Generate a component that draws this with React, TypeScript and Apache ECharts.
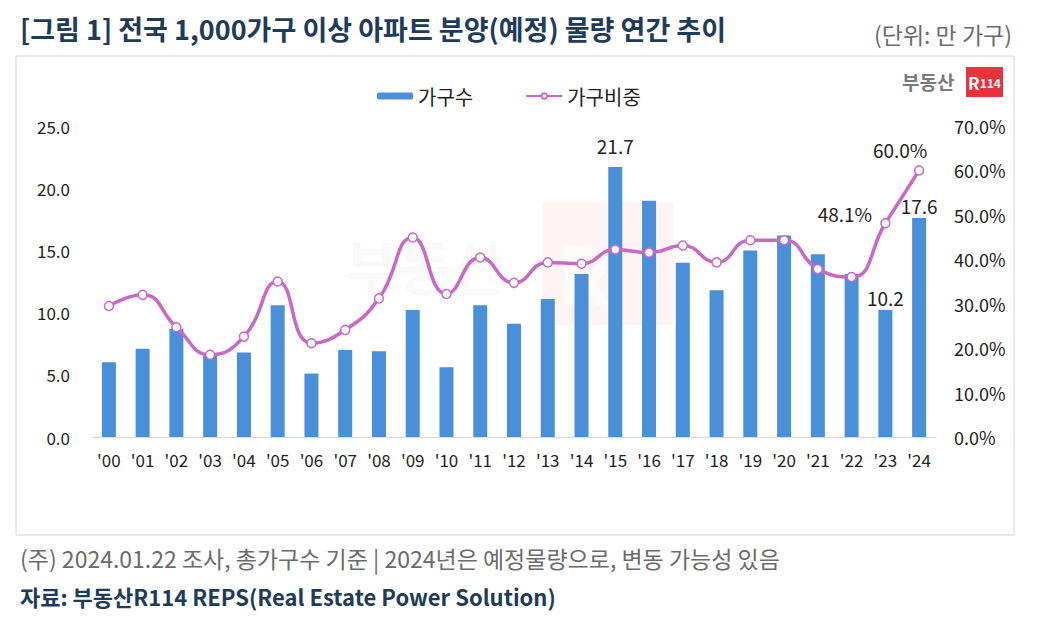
import React, { useEffect, useRef } from "react";
import * as echarts from "echarts";

const categories = ["'00","'01","'02","'03","'04","'05","'06","'07","'08","'09","'10","'11","'12","'13","'14","'15","'16","'17","'18","'19","'20","'21","'22","'23","'24"];
const households = [6.0, 7.1, 8.7, 6.6, 6.8, 10.6, 5.1, 7.0, 6.9, 10.2, 5.6, 10.6, 9.1, 11.1, 13.1, 21.7, 19.0, 14.0, 11.8, 15.0, 16.2, 14.7, 13.1, 10.2, 17.6];
const shares = [29.5, 32.0, 24.7, 18.5, 22.6, 35.0, 21.1, 24.1, 31.2, 44.9, 32.2, 40.4, 34.7, 39.3, 39.0, 42.2, 41.5, 43.1, 39.3, 44.3, 44.3, 37.8, 36.0, 48.1, 60.0];
const leftTicks = { min: 0, max: 25, interval: 5 };
const rightTicks = { min: 0, max: 70, interval: 10 };
const barLabelIdx = [15, 23, 24];
const lineLabelIdx = [23, 24];

const TITLE = "[그림 1] 전국 1,000가구 이상 아파트 분양(예정) 물량 연간 추이";
const UNIT = "(단위: 만 가구)";
const NOTE = "(주) 2024.01.22 조사, 총가구수 기준 | 2024년은 예정물량으로, 변동 가능성 있음";
const SOURCE = "자료: 부동산R114 REPS(Real Estate Power Solution)";

const FONT = "'Noto Sans CJK KR', 'Noto Sans', sans-serif";
const BAR = "#4a90d9";
const LINE = "#c868c8";

export default function App() {
  const ref = useRef<HTMLDivElement>(null);
  useEffect(() => {
    if (!ref.current) return;
    const chart = echarts.init(ref.current, null, { renderer: "svg" });
    const barData = households.map((v, i) => {
      if (!barLabelIdx.includes(i)) return v;
      return {
        value: v,
        label: {
          show: true,
          position: "top",
          distance: i === 15 ? 12 : 3,
          fontSize: 19,
          color: "#222",
          fontFamily: FONT,
          formatter: (p: any) => p.value.toFixed(1),
        },
      };
    });
    const lineData = shares.map((v, i) => {
      if (!lineLabelIdx.includes(i)) return v;
      const isLast = i === shares.length - 1;
      return {
        value: v,
        label: {
          show: true,
          position: isLast ? "top" : "left",
          distance: isLast ? 6 : 8,
          offset: isLast ? [-19, 0] : [0, -10],
          fontSize: 19,
          color: "#222",
          fontFamily: FONT,
          formatter: (p: any) => p.value.toFixed(1) + "%",
        },
      };
    });
    chart.setOption({
      animation: false,
      textStyle: { fontFamily: FONT },
      grid: { left: 92, right: 114, top: 126, bottom: 206 },
      legend: {
        left: 372,
        top: 81,
        itemWidth: 36,
        itemHeight: 7,
        itemGap: 52,
        textStyle: { fontSize: 20, color: "#222", fontFamily: FONT },
        data: ["가구수", "가구비중"],
      },
      xAxis: {
        type: "category",
        data: categories,
        axisLine: { lineStyle: { color: "#d9d9d9" } },
        axisTick: { show: false },
        axisLabel: { fontSize: 17, color: "#222", margin: 14, fontFamily: FONT },
      },
      yAxis: [
        {
          type: "value",
          ...leftTicks,
          splitLine: { show: false },
          axisLine: { show: false },
          axisTick: { show: false },
          axisLabel: { fontSize: 17, color: "#222", margin: 22, fontFamily: FONT, formatter: (v: number) => v.toFixed(1) },
        },
        {
          type: "value",
          ...rightTicks,
          position: "right",
          splitLine: { show: false },
          axisLine: { show: false },
          axisTick: { show: false },
          axisLabel: { fontSize: 18, color: "#222", margin: 18, fontFamily: FONT, formatter: (v: number) => v.toFixed(1) + "%" },
        },
      ],
      series: [
        {
          name: "가구수",
          type: "bar",
          data: barData,
          barWidth: 14,
          itemStyle: { color: BAR },
          z: 3,
        },
        {
          name: "가구비중",
          type: "line",
          yAxisIndex: 1,
          data: lineData,
          smooth: 0.5,
          symbol: "circle",
          symbolSize: 9,
          showAllSymbol: true,
          lineStyle: { color: LINE, width: 3.5 },
          itemStyle: { color: "#fff", borderColor: LINE, borderWidth: 1.5 },
          z: 4,
        },
      ],
      graphic: [
        {
          type: "text",
          left: 20,
          top: 15,
          style: { text: TITLE, fontSize: 27, fontWeight: "bold", fill: "#1f3b5a", fontFamily: FONT },
        },
        {
          type: "text",
          right: 38,
          top: 22,
          style: { text: UNIT, fontSize: 23, fill: "#6b6b6b", fontFamily: FONT },
        },
        {
          type: "rect",
          shape: { x: 16, y: 56, width: 998, height: 479 },
          style: { fill: "none", stroke: "#d6d6d6", lineWidth: 1 },
          z: 0,
        },
        {
          type: "rect",
          shape: { x: 543, y: 202, width: 130, height: 123 },
          style: { fill: "rgba(235,60,70,0.06)" },
          z: 0,
        },
        {
          type: "text",
          x: 345,
          y: 236,
          style: { text: "부동산", fontSize: 58, fontWeight: "bold", fill: "rgba(120,120,120,0.045)", fontFamily: FONT },
          z: 0,
        },
        {
          type: "text",
          x: 556,
          y: 230,
          style: { text: "R", fontSize: 80, fontWeight: "bold", fill: "rgba(255,255,255,0.6)", fontFamily: FONT },
          z: 0,
        },
        {
          type: "text",
          x: 902,
          y: 72,
          style: { text: "부동산", fontSize: 19, fontWeight: "bold", fill: "#7a7a7a", fontFamily: FONT },
        },
        {
          type: "rect",
          shape: { x: 966, y: 67, width: 37, height: 30 },
          style: { fill: "#e8323c" },
        },
        {
          type: "text",
          x: 984.5,
          y: 82,
          style: {
            text: "{r|R}{n|114}",
            align: "center",
            verticalAlign: "middle",
            rich: {
              r: { fontSize: 17, fontWeight: "bold", fill: "#fff", fontFamily: FONT },
              n: { fontSize: 12, fontWeight: "bold", fill: "#fff", fontFamily: FONT },
            },
          },
        },
        {
          type: "text",
          left: 20,
          top: 546,
          style: { text: NOTE, fontSize: 23, fill: "#6b6b6b", fontFamily: FONT },
        },
        {
          type: "text",
          left: 20,
          top: 585,
          style: { text: SOURCE, fontSize: 22, fontWeight: "bold", fill: "#1f3b5a", fontFamily: FONT },
        },
      ],
    });
    return () => chart.dispose();
  }, []);
  return (
    <div
      ref={ref}
      style={{ position: "fixed", left: 0, top: 0, width: 1050, height: 643, background: "#fff" }}
    />
  );
}
